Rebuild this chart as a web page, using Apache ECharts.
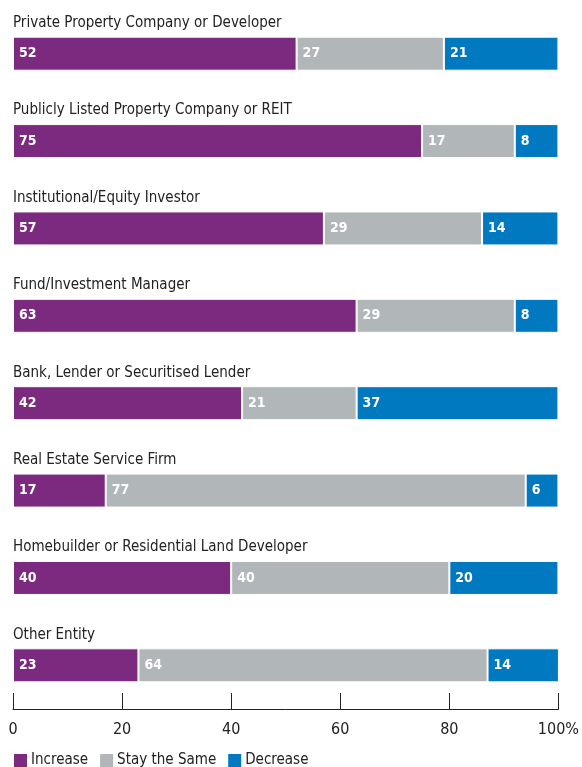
<!DOCTYPE html>
<html>
<head>
<meta charset="utf-8">
<script src="https://cdn.jsdelivr.net/npm/echarts@6/dist/echarts.min.js"></script>
<style>
  html, body { margin: 0; padding: 0; background: #fff; }
  #chart { width: 582px; height: 767px; }
</style>
</head>
<body>
<div id="chart"></div>
<script>
// 类别与数据
const categories = [
  'Private Property Company or Developer',
  'Publicly Listed Property Company or REIT',
  'Institutional/Equity Investor',
  'Fund/Investment Manager',
  'Bank, Lender or Securitised Lender',
  'Real Estate Service Firm',
  'Homebuilder or Residential Land Developer',
  'Other Entity'
]
const increase = [52, 75, 57, 63, 42, 17, 40, 23]
const staySame = [27, 17, 29, 29, 21, 77, 40, 64]
const decrease = [21, 8, 14, 8, 37, 6, 20, 14]
const xTicks = [0, 20, 40, 60, 80, 100]

const font = "'Liberation Sans Narrow', 'DejaVu Sans Condensed', sans-serif"

const makeSeries = (name, data, color) => ({
  name: name,
  type: 'bar',
  stack: 'total',
  data: data,
  barWidth: 34,
  itemStyle: { color: color, borderColor: '#fff', borderWidth: 1 },
  label: {
    show: true,
    position: 'insideLeft',
    distance: 6,
    color: '#fff',
    fontWeight: 'bold',
    fontSize: 14,
    fontFamily: font
  }
})

const myChart = echarts.init(document.getElementById('chart'))
myChart.setOption({
  animation: false,
  grid: { left: 13, right: 20, top: 10, bottom: 58, containLabel: false },
  legend: {
    left: 12,
    top: 752,
    padding: 0,
    itemWidth: 15,
    itemHeight: 15,
    itemGap: 10,
    icon: 'rect',
    textStyle: { fontSize: 15, color: '#222', fontFamily: font, padding: [0, 0, 0, -2] },
    data: ['Increase', 'Stay the Same', 'Decrease']
  },
  xAxis: {
    type: 'value',
    min: 0,
    max: 100,
    interval: 20,
    axisLine: { show: true, lineStyle: { color: '#222', width: 1 } },
    axisTick: { show: true, inside: true, length: 16, lineStyle: { color: '#222' } },
    splitLine: { show: false },
    axisLabel: {
      margin: 13,
      fontSize: 16,
      color: '#222',
      fontFamily: font,
      formatter: (v) => (v === xTicks[xTicks.length - 1] ? v + '%' : String(v))
    }
  },
  yAxis: {
    type: 'category',
    inverse: true,
    data: categories,
    axisLine: { show: false },
    axisTick: { show: false },
    axisLabel: {
      inside: true,
      align: 'left',
      verticalAlign: 'bottom',
      margin: 0,
      padding: [0, 0, 23, 0],
      fontSize: 15,
      color: '#222',
      fontFamily: font
    }
  },
  series: [
    makeSeries('Increase', increase, '#7b2a7f'),
    makeSeries('Stay the Same', staySame, '#b1b6b8'),
    makeSeries('Decrease', decrease, '#0079c1')
  ]
})
</script>
</body>
</html>
